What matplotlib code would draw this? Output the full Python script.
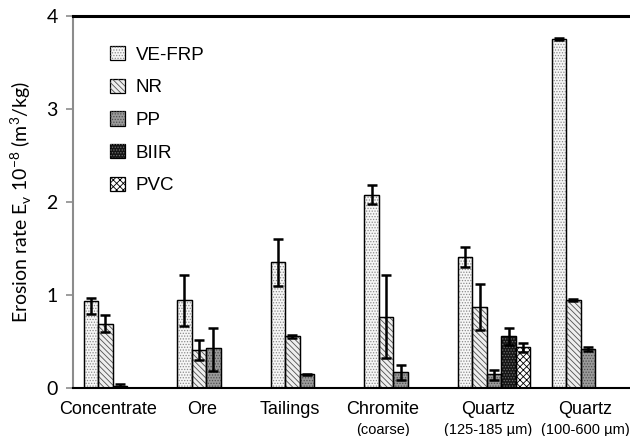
import matplotlib
matplotlib.use("Agg")
import matplotlib.pyplot as plt
import matplotlib.transforms as mtransforms
import numpy as np

categories = ["Concentrate", "Ore", "Tailings", "Chromite", "Quartz", "Quartz"]
subtitles = ["", "", "", "(coarse)", "(125-185 µm)", "(100-600 µm)"]
series = ["VE-FRP", "NR", "PP", "BIIR", "PVC"]

nan = np.nan
# mean erosion rate (1e-8 m3/kg) per category
ve_frp = [0.935, 0.95, 1.35, 2.08, 1.405, 3.755]
nr = [0.69, 0.405, 0.556, 0.76, 0.87, 0.946]
pp = [0.02, 0.43, 0.147, 0.17, 0.147, 0.42]
biir = [nan, nan, nan, nan, 0.56, nan]
pvc = [nan, nan, nan, nan, 0.44, nan]

# lower / upper ends of the error bars
ve_frp_lo = [0.80, 0.67, 1.10, 1.98, 1.30, 3.745]
ve_frp_hi = [0.965, 1.21, 1.60, 2.18, 1.52, 3.765]
nr_lo = [0.605, 0.30, 0.54, 0.32, 0.62, 0.935]
nr_hi = [0.78, 0.515, 0.575, 1.21, 1.12, 0.955]
pp_lo = [0.005, 0.18, 0.142, 0.086, 0.09, 0.395]
pp_hi = [0.04, 0.65, 0.152, 0.25, 0.19, 0.445]
biir_lo = [nan, nan, nan, nan, 0.46, nan]
biir_hi = [nan, nan, nan, nan, 0.65, nan]
pvc_lo = [nan, nan, nan, nan, 0.39, nan]
pvc_hi = [nan, nan, nan, nan, 0.48, nan]

values = [ve_frp, nr, pp, biir, pvc]
lows = [ve_frp_lo, nr_lo, pp_lo, biir_lo, pvc_lo]
highs = [ve_frp_hi, nr_hi, pp_hi, biir_hi, pvc_hi]

# fill colour, hatch, hatch colour
styles = [
    ("#f6f6f6", "......", "#8a8a8a"),
    ("#eeeeee", "\\\\\\\\\\\\", "#505050"),
    ("#9a9a9a", "......", "#505050"),
    ("#151515", "......", "#707070"),
    ("#ffffff", "xxxxx", "#000000"),
]

# where the group labels sit (data x)
label_x = [0.37, 1.38, 2.32, 3.31, 4.43, 5.47]

plt.rcParams["font.family"] = ["Liberation Sans", "DejaVu Sans"]
plt.rcParams["hatch.linewidth"] = 0.6

fig = plt.figure(figsize=(6.3, 4.36), dpi=100)
ax = fig.add_axes([73 / 630, 48 / 436, 561.6 / 630, 372 / 436])

width = 0.155
gap = 1 - 5 * width
idx = np.arange(len(categories))

handles = []
for k, name in enumerate(series):
    vals = np.array(values[k], dtype=float)
    lo = np.array(lows[k], dtype=float)
    hi = np.array(highs[k], dtype=float)
    ok = ~np.isnan(vals)
    x = idx[ok] + gap / 2 + k * width
    face, hatch, hcol = styles[k]
    base = ax.bar(x, vals[ok], width, align="edge", color=face,
                  edgecolor="black", linewidth=0.9, zorder=2)
    over = ax.bar(x, vals[ok], width, align="edge", color="none",
                  edgecolor=hcol, hatch=hatch, linewidth=0, zorder=2.5)
    ax.bar(x, vals[ok], width, align="edge", color="none",
           edgecolor="black", linewidth=0.9, zorder=2.6)
    yerr = np.vstack([vals[ok] - lo[ok], hi[ok] - vals[ok]])
    ax.errorbar(x + width / 2, vals[ok], yerr=yerr, fmt="none", ecolor="black",
                elinewidth=1.8, capsize=3.5, capthick=1.8, zorder=3)
    handles.append((base.patches[0], over.patches[0]))

ax.set_xlim(0, 6)
ax.set_ylim(0, 4)
ax.set_yticks([0, 1, 2, 3, 4])
ax.set_yticklabels(["0", "1", "2", "3", "4"], family=["Lato", "DejaVu Sans"],
                   fontsize=14)
ax.set_xticks([])
ax.tick_params(axis="y", direction="out", length=5, width=1.2, color="#8c8c8c",
               pad=6)

ax.spines["left"].set_color("#8c8c8c")
ax.spines["left"].set_linewidth(1.5)
ax.spines["bottom"].set_linewidth(1.5)
ax.spines["top"].set_linewidth(2.2)
ax.spines["right"].set_visible(False)

ax.set_ylabel("Erosion rate E$_\\mathregular{v}$ 10$^\\mathregular{-8}$ (m$^\\mathregular{3}$/kg)",
              family=["Lato", "DejaVu Sans"], fontsize=14, labelpad=9)

trans = mtransforms.blended_transform_factory(ax.transData, ax.transAxes)
for xl, cat, sub in zip(label_x, categories, subtitles):
    ax.text(xl, -0.035, cat, transform=trans, ha="center", va="top", fontsize=13)
    if sub:
        ax.text(xl, -0.095, sub, transform=trans, ha="center", va="top",
                fontsize=10.5)

ax.legend(handles, series, loc="upper left", bbox_to_anchor=(0.035, 0.965),
          frameon=False, fontsize=13.5, handlelength=0.8, handleheight=0.8,
          labelspacing=0.8, handletextpad=0.6)

fig.savefig("out.png", dpi=100)
